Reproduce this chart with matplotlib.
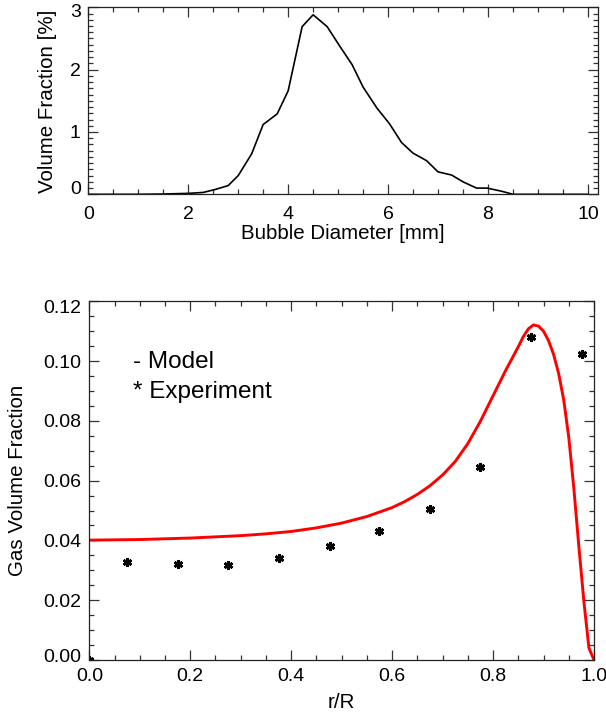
from __future__ import annotations

import matplotlib

matplotlib.use("Agg")
import matplotlib.pyplot as plt
from matplotlib.ticker import FixedLocator, MultipleLocator
from matplotlib.transforms import ScaledTranslation

# Bubble size distribution (top panel)
diameter_mm = [0.0, 1.0, 1.5, 2.0, 2.3, 2.55, 2.8, 3.0, 3.27, 3.5, 3.78, 4.0, 4.28,
               4.5, 4.78, 5.03, 5.28, 5.5, 5.78, 6.03, 6.27, 6.5, 6.77, 7.0, 7.27,
               7.5, 7.77, 7.98, 8.27, 8.5, 9.5, 10.0]
volume_pct = [0.0, 0.0, 0.005, 0.015, 0.03, 0.08, 0.14, 0.30, 0.65, 1.12, 1.29, 1.66,
              2.69, 2.88, 2.69, 2.38, 2.08, 1.72, 1.38, 1.13, 0.83, 0.66, 0.54, 0.36,
              0.31, 0.20, 0.10, 0.10, 0.05, 0.0, 0.0, 0.0]
diameter_ticks = [0, 2, 4, 6, 8, 10]
volume_ticks = [0, 1, 2, 3]

# Radial gas volume fraction (bottom panel)
model_r = [0.0, 0.1, 0.2, 0.3, 0.35, 0.4, 0.45, 0.5, 0.55, 0.6, 0.625, 0.65, 0.675,
           0.7, 0.725, 0.75, 0.775, 0.8, 0.825, 0.85, 0.86, 0.87, 0.88, 0.89, 0.9,
           0.91, 0.92, 0.93, 0.94, 0.95, 0.96, 0.97, 0.98, 0.99, 1.0]
model_alpha = [0.0401, 0.0403, 0.0408, 0.0416, 0.0422, 0.0430, 0.0442, 0.0458,
               0.0480, 0.0510, 0.0530, 0.0554, 0.0583, 0.0619, 0.0664, 0.0724,
               0.0799, 0.0884, 0.0969, 0.1048, 0.1082, 0.1108, 0.1121, 0.1117,
               0.1100, 0.1068, 0.1022, 0.0958, 0.0870, 0.0745, 0.0575, 0.0380,
               0.0195, 0.0040, 0.0]
exp_r = [0.0, 0.074, 0.175, 0.274, 0.375, 0.476, 0.574, 0.675, 0.774, 0.875, 0.976]
exp_alpha = [0.0, 0.0327, 0.0321, 0.0318, 0.0341, 0.0383, 0.0433, 0.0506, 0.0644,
             0.1080, 0.1025]
r_ticks = [0.0, 0.2, 0.4, 0.6, 0.8, 1.0]
alpha_ticks = [0.0, 0.02, 0.04, 0.06, 0.08, 0.10, 0.12]

FONT = ["Liberation Sans", "DejaVu Sans"]


def style_axis(ax, xpad: float) -> None:
    ax.tick_params(which="both", direction="in", top=True, right=True,
                   labelsize=14, width=0.9, color="#333333")
    ax.tick_params(which="major", length=7)
    ax.tick_params(which="minor", length=3.5)
    ax.tick_params(axis="x", pad=xpad)
    ax.tick_params(axis="y", pad=5.5)
    for spine in ax.spines.values():
        spine.set_linewidth(0.9)
        spine.set_color("#222222")


def nudge_edge_labels(fig, ax, lower_px: float, upper_px: float) -> None:
    # IDL pushes the end labels of the y axis inside the frame
    ticks = ax.yaxis.get_major_ticks()
    for tick, dy in ((ticks[0], lower_px), (ticks[-1], -upper_px)):
        label = tick.label1
        label.set_transform(label.get_transform()
                            + ScaledTranslation(0, dy / fig.dpi, fig.dpi_scale_trans))


def main() -> None:
    plt.rcParams["font.family"] = FONT
    fig = plt.figure(figsize=(6.06, 7.16), dpi=100)

    top_ax = fig.add_axes([0.1457, 0.7286, 0.841, 0.2612])
    top_ax.plot(diameter_mm, volume_pct, color="black", linewidth=1.2)
    top_ax.set_xlim(0, 10.2)
    top_ax.set_ylim(0, 3)
    top_ax.xaxis.set_major_locator(FixedLocator(diameter_ticks))
    top_ax.xaxis.set_minor_locator(MultipleLocator(0.5))
    top_ax.yaxis.set_major_locator(FixedLocator(volume_ticks))
    top_ax.yaxis.set_minor_locator(MultipleLocator(0.1))
    style_axis(top_ax, xpad=8.6)
    top_ax.set_xlabel("Bubble Diameter [mm]", fontsize=14.8)
    top_ax.set_ylabel("Volume Fraction [%]", fontsize=14.8)
    top_ax.xaxis.set_label_coords(0.5, -0.161)
    top_ax.yaxis.set_label_coords(-0.061, 0.5)
    nudge_edge_labels(fig, top_ax, 7, 3)

    bottom_ax = fig.add_axes([0.1474, 0.0782, 0.8328, 0.501])
    bottom_ax.plot(model_r, model_alpha, color="red", linewidth=2.1)
    bottom_ax.plot(exp_r, exp_alpha, linestyle="none", marker=(6, 2, 0),
                   markersize=6.5, markeredgewidth=1.9, color="black")
    bottom_ax.set_xlim(0, 1)
    bottom_ax.set_ylim(0, 0.12)
    bottom_ax.xaxis.set_major_locator(FixedLocator(r_ticks))
    bottom_ax.xaxis.set_minor_locator(MultipleLocator(0.05))
    bottom_ax.yaxis.set_major_locator(FixedLocator(alpha_ticks))
    bottom_ax.yaxis.set_minor_locator(MultipleLocator(0.005))
    bottom_ax.xaxis.set_major_formatter(lambda value, _: f"{value:.1f}")
    bottom_ax.yaxis.set_major_formatter(lambda value, _: f"{value:.2f}")
    style_axis(bottom_ax, xpad=5.8)
    bottom_ax.set_xlabel("r/R", fontsize=14.8)
    bottom_ax.set_ylabel("Gas Volume Fraction", fontsize=14.8)
    bottom_ax.xaxis.set_label_coords(0.5, -0.0914)
    bottom_ax.yaxis.set_label_coords(-0.123, 0.5)
    nudge_edge_labels(fig, bottom_ax, 5, 5)

    bottom_ax.text(0.087, 0.0978, "- Model", fontsize=17.5, va="baseline")
    bottom_ax.text(0.087, 0.0878, "* Experiment", fontsize=17.5, va="baseline")

    fig.savefig("out.png", dpi=100)
    plt.close(fig)


if __name__ == "__main__":
    main()
